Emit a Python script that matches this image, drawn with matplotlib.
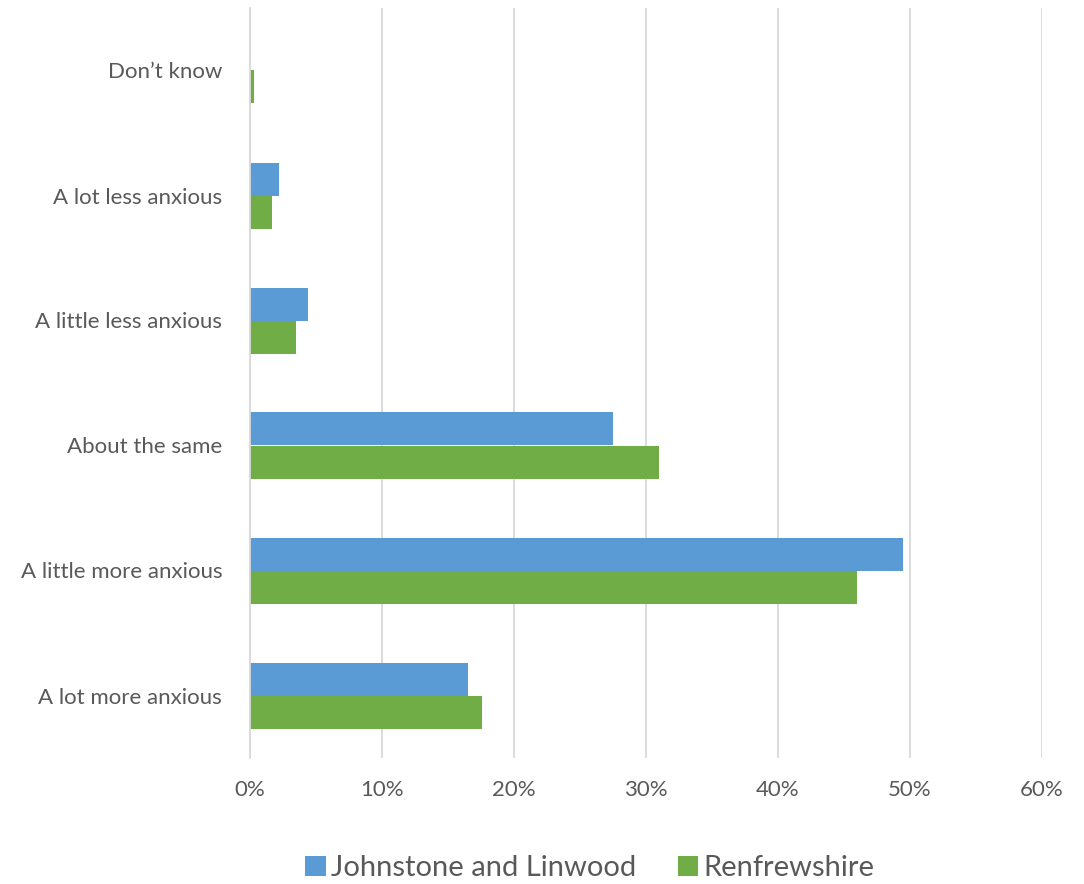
import matplotlib
matplotlib.use("Agg")
import matplotlib.pyplot as plt
import numpy as np
from matplotlib.ticker import FuncFormatter

categories = ["A lot more anxious", "A little more anxious", "About the same",
              "A little less anxious", "A lot less anxious", "Don\u2019t know"]
johnstone = [16.5, 49.5, 27.5, 4.4, 2.2, 0.0]
renfrewshire = [17.6, 46.0, 31.0, 3.5, 1.7, 0.3]
series_names = ["Johnstone and Linwood", "Renfrewshire"]
xticks = [0, 10, 20, 30, 40, 50, 60]

plt.rcParams['font.family'] = ['Lato', 'DejaVu Sans']
txt = '#595959'
grid = '#D9D9D9'

fig = plt.figure(figsize=(10.84, 8.84), dpi=100)
ax = fig.add_axes([250/1084, 1-758/884, (1042-250)/1084, 750/884])

y = np.arange(len(categories))
h = 0.264
b1 = ax.barh(y + h/2, johnstone, height=h, color='#5B9BD5', label=series_names[0])
b2 = ax.barh(y - h/2, renfrewshire, height=h, color='#70AD47', label=series_names[1])

ax.set_xlim(0, 60)
ax.set_ylim(-0.5, 5.5)
ax.set_xticks(xticks)
ax.xaxis.set_major_formatter(FuncFormatter(lambda v, p: f"{int(v)}%"))
ax.set_yticks(y)
ax.set_yticklabels(categories)
ax.grid(axis='x', color=grid, linewidth=1.3)
ax.set_axisbelow(True)
for s in ['top', 'right', 'bottom']:
    ax.spines[s].set_visible(False)
ax.spines['left'].set_color(grid)
ax.spines['left'].set_linewidth(1.3)
ax.tick_params(axis='both', length=0, labelcolor=txt, labelsize=16)
ax.tick_params(axis='x', pad=16)
ax.tick_params(axis='y', pad=20)

leg = fig.legend(handles=[b1, b2], loc='center', bbox_to_anchor=(590/1084, 1-868/884),
                 ncol=2, frameon=False, fontsize=21, handlelength=0.7, handleheight=0.7,
                 handletextpad=0.2, columnspacing=1.4)
for t in leg.get_texts():
    t.set_color(txt)

fig.savefig("out.png", dpi=100, facecolor='white')
